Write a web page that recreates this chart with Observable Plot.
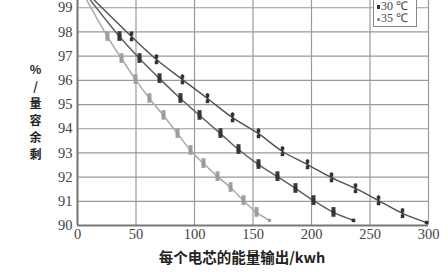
<!DOCTYPE html>
<html>
<head>
<meta charset="utf-8">
<script src="https://cdn.jsdelivr.net/npm/d3@7"></script>
<script src="https://cdn.jsdelivr.net/npm/@observablehq/plot@0.6"></script>
<style>
  html, body { margin: 0; padding: 0; background: #fff; }
  #wrap { position: relative; width: 448px; height: 278px; overflow: hidden; }
  #legend {
    position: absolute; left: 373px; top: -1px; width: 44px; height: 28px;
    border: 1px solid #888; background: #fff; box-sizing: border-box;
    font-family: "Liberation Serif", serif; font-size: 12px; line-height: 12px; color: #444;
    padding-left: 3px; padding-top: 0px;
  }
  #legend .row { white-space: nowrap; height: 12px; }
  #legend .sq { display: inline-block; width: 3px; height: 4px; background: #333; vertical-align: middle; margin-right: 1px; }
  #legend .dt { display: inline-block; width: 3px; height: 3px; border-radius: 50%; background: #777; vertical-align: middle; margin-right: 1px; }
</style>
</head>
<body>
<div id="wrap"></div>
<script>
// Energy output per cell (kWh) and remaining capacity (%) for each temperature series.
// The first point (0, 100) is the common start of the fitted lines.
const x25 = [0, 46.2, 67.5, 89.7, 111.1, 132.5, 154.7, 175.2, 196.6, 217.1, 237.6, 257.3, 277.8, 298.3];
const y25 = [100, 97.81, 96.86, 96.03, 95.25, 94.46, 93.80, 93.06, 92.52, 91.98, 91.53, 91.03, 90.50, 90.12];
const x30 = [0, 35.9, 53.0, 70.1, 88.0, 104.3, 122.2, 137.6, 154.7, 170.9, 186.3, 201.7, 218.8, 235.9];
const y30 = [100, 97.81, 96.90, 96.07, 95.25, 94.55, 93.80, 93.14, 92.52, 92.02, 91.53, 91.03, 90.54, 90.21];
const x35 = [0, 25.6, 37.6, 49.6, 61.5, 73.5, 85.5, 96.6, 107.7, 119.7, 130.8, 141.9, 153.0, 164.1];
const y35 = [100, 97.81, 96.90, 96.03, 95.25, 94.55, 93.80, 93.10, 92.56, 92.02, 91.57, 91.03, 90.54, 90.21];
// error bar half-widths (null = no marker at the line start)
const err = [null, 0.2, 0.2, 0.2, 0.2, 0.2, 0.2, 0.2, 0.2, 0.2, 0.2, 0.2, 0.2, 0];

const seriesNames = ["25 ℃", "30 ℃", "35 ℃"];
const xTicks = [0, 50, 100, 150, 200, 250, 300];
const yTicks = [90, 91, 92, 93, 94, 95, 96, 97, 98, 99];
const xTitle = "每个电芯的能量输出/kwh";
const yTitle = "剩余容量/%";

const build = (xs, ys, name) => xs.map((x, i) => ({x, y: ys[i], e: err[i], s: name}));
const s25 = build(x25, y25, seriesNames[0]);
const s30 = build(x30, y30, seriesNames[1]);
const s35 = build(x35, y35, seriesNames[2]);
const mk = d => d.filter(p => p.e !== null);
const bars = d => d.filter(p => p.e);

const yLabelStacked = Array.from(yTitle).reverse().join("\n");
const serif = "Liberation Serif, serif";
const cjk = "Noto Sans CJK SC, sans-serif";

const chart = Plot.plot({
  width: 448,
  height: 278,
  marginLeft: 77,
  marginRight: 20,
  marginTop: 0,
  marginBottom: 53,
  style: "background: #fff;",
  x: {domain: [0, 300], ticks: xTicks, label: null},
  y: {domain: [90, 99.3], ticks: yTicks, label: null},
  marks: [
    Plot.gridX(xTicks, {stroke: "#9a9a9a", strokeOpacity: 1, strokeWidth: 1.2}),
    Plot.gridY(yTicks, {stroke: "#9a9a9a", strokeOpacity: 1, strokeWidth: 1.2}),
    Plot.ruleX([0], {stroke: "#777", strokeWidth: 2}),
    Plot.ruleY([90], {stroke: "#777", strokeWidth: 2}),
    Plot.axisX({ticks: xTicks, tickSize: 0, tickPadding: 3, fontSize: 14.5, fill: "#444", label: null, fontFamily: serif}),
    Plot.axisY({ticks: yTicks, tickSize: 0, tickPadding: 5, fontSize: 14.5, fill: "#444", label: null, fontFamily: serif}),
    // fitted lines
    Plot.line(s35, {x: "x", y: "y", curve: "catmull-rom", stroke: "#aaa", strokeWidth: 1.5, clip: true}),
    Plot.line(s30, {x: "x", y: "y", curve: "catmull-rom", stroke: "#606060", strokeWidth: 1.5, clip: true}),
    Plot.line(s25, {x: "x", y: "y", curve: "catmull-rom", stroke: "#505050", strokeWidth: 1.4, clip: true}),
    // 35 ℃ markers: light grey bars
    Plot.ruleX(bars(s35), {x: "x", y1: d => d.y - d.e, y2: d => d.y + d.e, stroke: "#a0a0a0", strokeWidth: 4}),
    Plot.dot(mk(s35), {x: "x", y: "y", r: 1.8, fill: "#999", symbol: "square"}),
    // 30 ℃ markers: dark bars
    Plot.ruleX(bars(s30), {x: "x", y1: d => d.y - d.e, y2: d => d.y + d.e, stroke: "#3a3a3a", strokeWidth: 4}),
    Plot.dot(mk(s30), {x: "x", y: "y", r: 2, fill: "#333", symbol: "square"}),
    // 25 ℃ markers: thin error bars with caps
    Plot.ruleX(bars(s25), {x: "x", y1: d => d.y - d.e, y2: d => d.y + d.e, stroke: "#333", strokeWidth: 1.5}),
    Plot.dot(bars(s25), {x: "x", y: d => d.y + d.e * 0.6, r: 2, symbol: "square", fill: "#333"}),
    Plot.dot(bars(s25), {x: "x", y: d => d.y - d.e * 0.6, r: 2, symbol: "square", fill: "#333"}),
    Plot.dot(mk(s25).filter(p => !p.e), {x: "x", y: "y", r: 2, fill: "#333"}),
    // axis titles
    Plot.text([xTitle], {frameAnchor: "bottom", dx: -11, dy: 37, text: d => d, fontSize: 14.5, fontWeight: 600,
      fill: "#222", fontFamily: cjk}),
    Plot.text([yLabelStacked], {frameAnchor: "left", dx: -42, dy: -2, text: d => d, fontSize: 12, fontWeight: 600,
      lineHeight: 1.42, fill: "#222", textAnchor: "middle", fontFamily: cjk})
  ]
});

const wrap = document.getElementById("wrap");
wrap.appendChild(chart);

const legend = document.createElement("div");
legend.id = "legend";
legend.innerHTML =
  `<div class="row"><span class="sq"></span>${seriesNames[1]}</div>` +
  `<div class="row"><span class="dt"></span>${seriesNames[2]}</div>`;
wrap.appendChild(legend);
</script>
</body>
</html>
